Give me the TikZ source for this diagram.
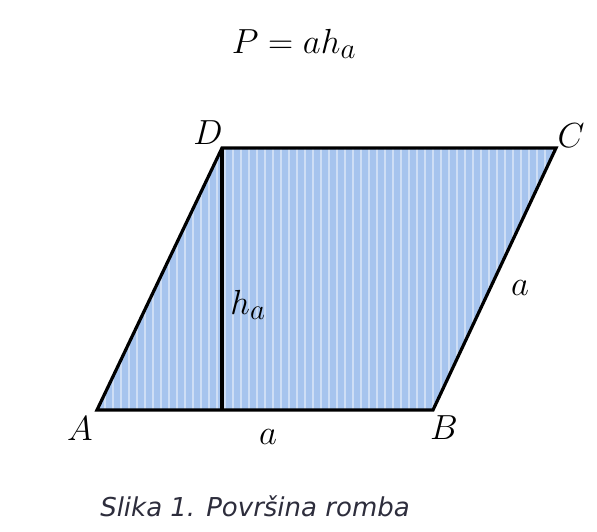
\documentclass[tikz,border=0pt]{standalone}
\usepackage{fontspec}
\newfontfamily\captionfont{DejaVu Sans}
\usetikzlibrary{positioning, calc}

\definecolor{rombfill}{RGB}{166,196,238}
\definecolor{captiongray}{RGB}{45,45,60}

\begin{document}
\begin{tikzpicture}[
    x=1pt, y=-1pt,
    edge/.style={line width=3.2pt, line join=miter},
    label/.style={font=\Huge, scale=1.4, inner sep=0pt},
    caption/.style={font=\fontsize{26}{30}\selectfont\captionfont\itshape, text=captiongray, inner sep=0pt}
]
\useasboundingbox (0,0) rectangle (597,531);

\coordinate (A) at (97,410);
\coordinate (B) at (433,410);
\coordinate (C) at (556,148);
\coordinate (D) at (222,148);
\coordinate (H) at (222,410);

% rhombus with striped fill
\fill[rombfill] (A) -- (B) -- (C) -- (D) -- cycle;
\begin{scope}
\clip (A) -- (B) -- (C) -- (D) -- cycle;
\foreach \i in {0,...,60}
    \draw[white, opacity=0.45, line width=1.6pt] (97+\i*8,140) -- (97+\i*8,415);
\end{scope}
\draw[edge] (A) -- (B) -- (C) -- (D) -- cycle;
\draw[edge] (D) -- (H);

\node[label] (formula) at (294,44) {$P = ah_a$};
\node[label] (lD) at (208,133) {$D$};
\node[label] (lC) at (571,136) {$C$};
\node[label] (lA) at (80,429) {$A$};
\node[label] (lB) at (444,428) {$B$};
\node[label] (lab) at (268,437) {$a$};
\node[label] (lbc) at (520,288) {$a$};
\node[label] (lh) at (248,305) {$h_a$};

\node[caption] (cap) at (255,506) {Slika 1. Površina romba};
\end{tikzpicture}
\end{document}
